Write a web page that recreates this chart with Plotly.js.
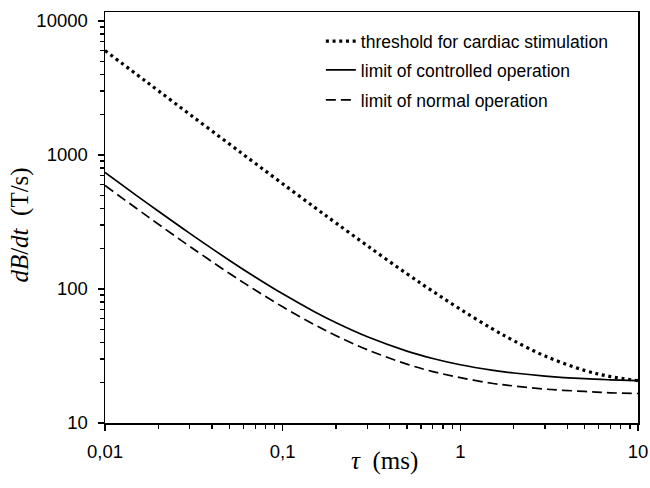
<!DOCTYPE html>
<html>
<head>
<meta charset="utf-8">
<script src="https://cdn.plot.ly/plotly-3.0.1.min.js"></script>
<style>html,body{margin:0;padding:0;background:#fff}#chart{width:650px;height:488px}</style>
</head>
<body>
<div id="chart"></div>
<script>
// pulse duration tau (ms)
const tau = [0.01, 0.015, 0.02, 0.03, 0.05, 0.07, 0.1, 0.15, 0.2, 0.3, 0.5, 0.7, 1, 1.5, 2, 3, 5, 7, 10];
// dB/dt (T/s)
const cardiac = [6010, 4010, 3010, 2010, 1210, 867, 610, 410, 310, 210, 130, 96.1, 70.6, 50.8, 41.1, 31.6, 24.7, 22.2, 20.7];
const controlled = [740, 500, 380, 260, 164, 122.9, 92, 68, 56, 44, 34.4, 30.3, 27.2, 24.8, 23.6, 22.4, 21.4, 21.0, 20.7];
const normal = [592, 400, 304, 208, 131, 98.3, 73.6, 54.4, 44.8, 35.2, 27.5, 24.2, 21.8, 19.8, 18.9, 17.9, 17.2, 16.8, 16.6];

const names = ['threshold for cardiac stimulation', 'limit of controlled operation', 'limit of normal operation'];
const xTickVals = [0.01, 0.1, 1, 10];
const xTickText = ['0,01', '0,1', '1', '10'];
const yTickVals = [10, 100, 1000, 10000];
const yTickText = ['10', '100', '1000', '10000'];
const xDecades = [0.01, 0.1, 1];
const yDecades = [10, 100, 1000];
const minorMult = [2, 3, 4, 5, 6, 7, 8, 9];

const xMinor = [];
xDecades.forEach(d => minorMult.forEach(m => xMinor.push(d * m)));
const yMinor = [];
yDecades.forEach(d => minorMult.forEach(m => yMinor.push(d * m)));

const traces = [
  {x: tau, y: cardiac, name: names[0], mode: 'lines', line: {color: '#000', width: 3.2, dash: '3px,3.7px', shape: 'spline'}, legend: 'legend'},
  {x: tau, y: controlled, name: names[1], mode: 'lines', line: {color: '#000', width: 1.7, shape: 'spline'}, legend: 'legend2'},
  {x: tau, y: normal, name: names[2], mode: 'lines', line: {color: '#000', width: 1.7, dash: '10px,5px', shape: 'spline'}, legend: 'legend3'}
];

const legFont = {family: 'Liberation Sans, Arial, sans-serif', size: 17.5, color: '#000'};
const legBase = {x: 0.405, xanchor: 'left', yanchor: 'middle', bgcolor: 'rgba(0,0,0,0)', font: legFont, borderwidth: 0};

const tickFont = {family: 'Liberation Sans, Arial, sans-serif', size: 18.5, color: '#000'};
const axisCommon = {
  type: 'log', showgrid: false, zeroline: false,
  showline: true, linecolor: '#000', linewidth: 1.5, mirror: true,
  ticks: 'outside', ticklen: 6, tickwidth: 1.5, tickcolor: '#000',
  tickfont: tickFont, tickmode: 'array'
};
const minorStyle = {ticks: 'outside', ticklen: 4, tickwidth: 1.3, tickcolor: '#000', showgrid: false, tickmode: 'array'};

const titleFont = {family: 'Liberation Serif, Times New Roman, serif', size: 25, color: '#000'};

const layout = {
  width: 650, height: 488,
  margin: {l: 105, r: 12, t: 12, b: 65},
  paper_bgcolor: '#fff', plot_bgcolor: '#fff',
  showlegend: true,
  legend: Object.assign({}, legBase, {y: 0.929}),
  legend2: Object.assign({}, legBase, {y: 0.859}),
  legend3: Object.assign({}, legBase, {y: 0.786}),
  xaxis: Object.assign({}, axisCommon, {
    range: [-2, 1], tickvals: xTickVals, ticktext: xTickText, ticklabelstandoff: 5,
    minor: Object.assign({}, minorStyle, {tickvals: xMinor})
  }),
  yaxis: Object.assign({}, axisCommon, {
    range: [1, 4.067], tickvals: yTickVals, ticktext: yTickText, ticklabelstandoff: 6,
    minor: Object.assign({}, minorStyle, {tickvals: yMinor})
  }),
  annotations: [
    {text: '<i>τ</i>  (ms)', xref: 'paper', yref: 'paper', x: 0.525, y: -0.0925, xanchor: 'center', yanchor: 'middle', showarrow: false, font: titleFont},
    {text: '<i>dB</i>/<i>dt</i>  (T/s)', xref: 'paper', yref: 'paper', x: -0.16, y: 0.482, xanchor: 'center', yanchor: 'middle', textangle: -90, showarrow: false, font: titleFont}
  ]
};

Plotly.newPlot('chart', traces, layout, {displayModeBar: false, staticPlot: true});
</script>
</body>
</html>
